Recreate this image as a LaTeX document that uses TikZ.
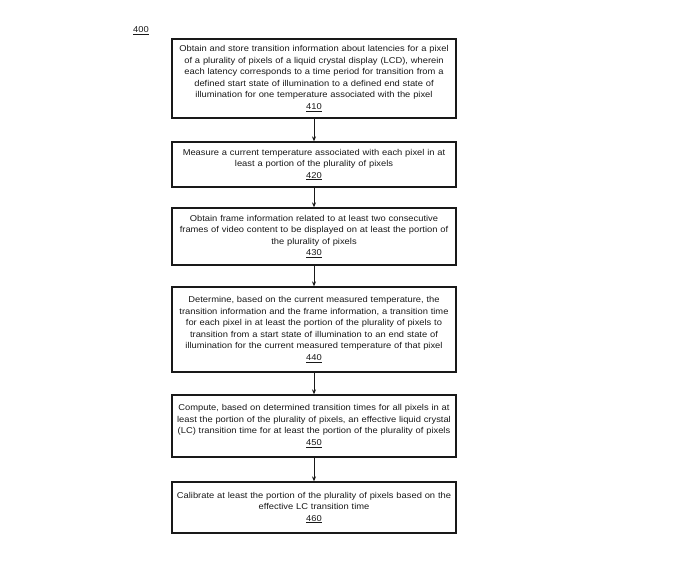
\documentclass[tikz,border=0pt]{standalone}
\usepackage{fontspec}
\setmainfont{Liberation Sans}
\newfontfamily\wideface[FakeStretch=1.1]{Liberation Sans}
\usetikzlibrary{arrows.meta}
\definecolor{ink}{RGB}{25,25,25}
\tikzset{
  stepbox/.style={draw=ink, line width=1.3pt, fill=white, inner sep=0pt,
    minimum width=284pt, text width=282pt, align=center, text=ink,
    font=\wideface\fontsize{8.5}{11.5}\selectfont},
  flow/.style={draw=ink, line width=0.9pt, -{Stealth[length=5pt,width=4pt]}}
}
\begin{document}
\begin{tikzpicture}[x=1pt,y=-1pt]
\useasboundingbox (0,0) rectangle (685,582);
\node[text=ink, font=\wideface\fontsize{8.5}{11.5}\selectfont] (lbl) at (141,31) {\underline{400}};
\node[stepbox, minimum height=79pt] (b1) at (314,78.5) {Obtain and store transition information about latencies for a pixel\\of a plurality of pixels of a liquid crystal display (LCD), wherein\\each latency corresponds to a time period for transition from a\\defined start state of illumination to a defined end state of\\illumination for one temperature associated with the pixel\\\underline{410}};
\node[stepbox, minimum height=45pt] (b2) at (314,164.5) {Measure a current temperature associated with each pixel in at\\least a portion of the plurality of pixels\\\underline{420}};
\node[stepbox, minimum height=57pt] (b3) at (314,236.5) {Obtain frame information related to at least two consecutive\\frames of video content to be displayed on at least the portion of\\the plurality of pixels\\\underline{430}};
\node[stepbox, minimum height=85pt] (b4) at (314,329.5) {Determine, based on the current measured temperature, the\\transition information and the frame information, a transition time\\for each pixel in at least the portion of the plurality of pixels to\\transition from a start state of illumination to an end state of\\illumination for the current measured temperature of that pixel\\\underline{440}};
\node[stepbox, minimum height=62pt] (b5) at (314,426) {Compute, based on determined transition times for all pixels in at\\least the portion of the plurality of pixels, an effective liquid crystal\\(LC) transition time for at least the portion of the plurality of pixels\\\underline{450}};
\node[stepbox, minimum height=51pt] (b6) at (314,507.5) {Calibrate at least the portion of the plurality of pixels based on the\\effective LC transition time\\\underline{460}};
\draw[flow] (b1) -- (b2);
\draw[flow] (b2) -- (b3);
\draw[flow] (b3) -- (b4);
\draw[flow] (b4) -- (b5);
\draw[flow] (b5) -- (b6);
\end{tikzpicture}
\end{document}
